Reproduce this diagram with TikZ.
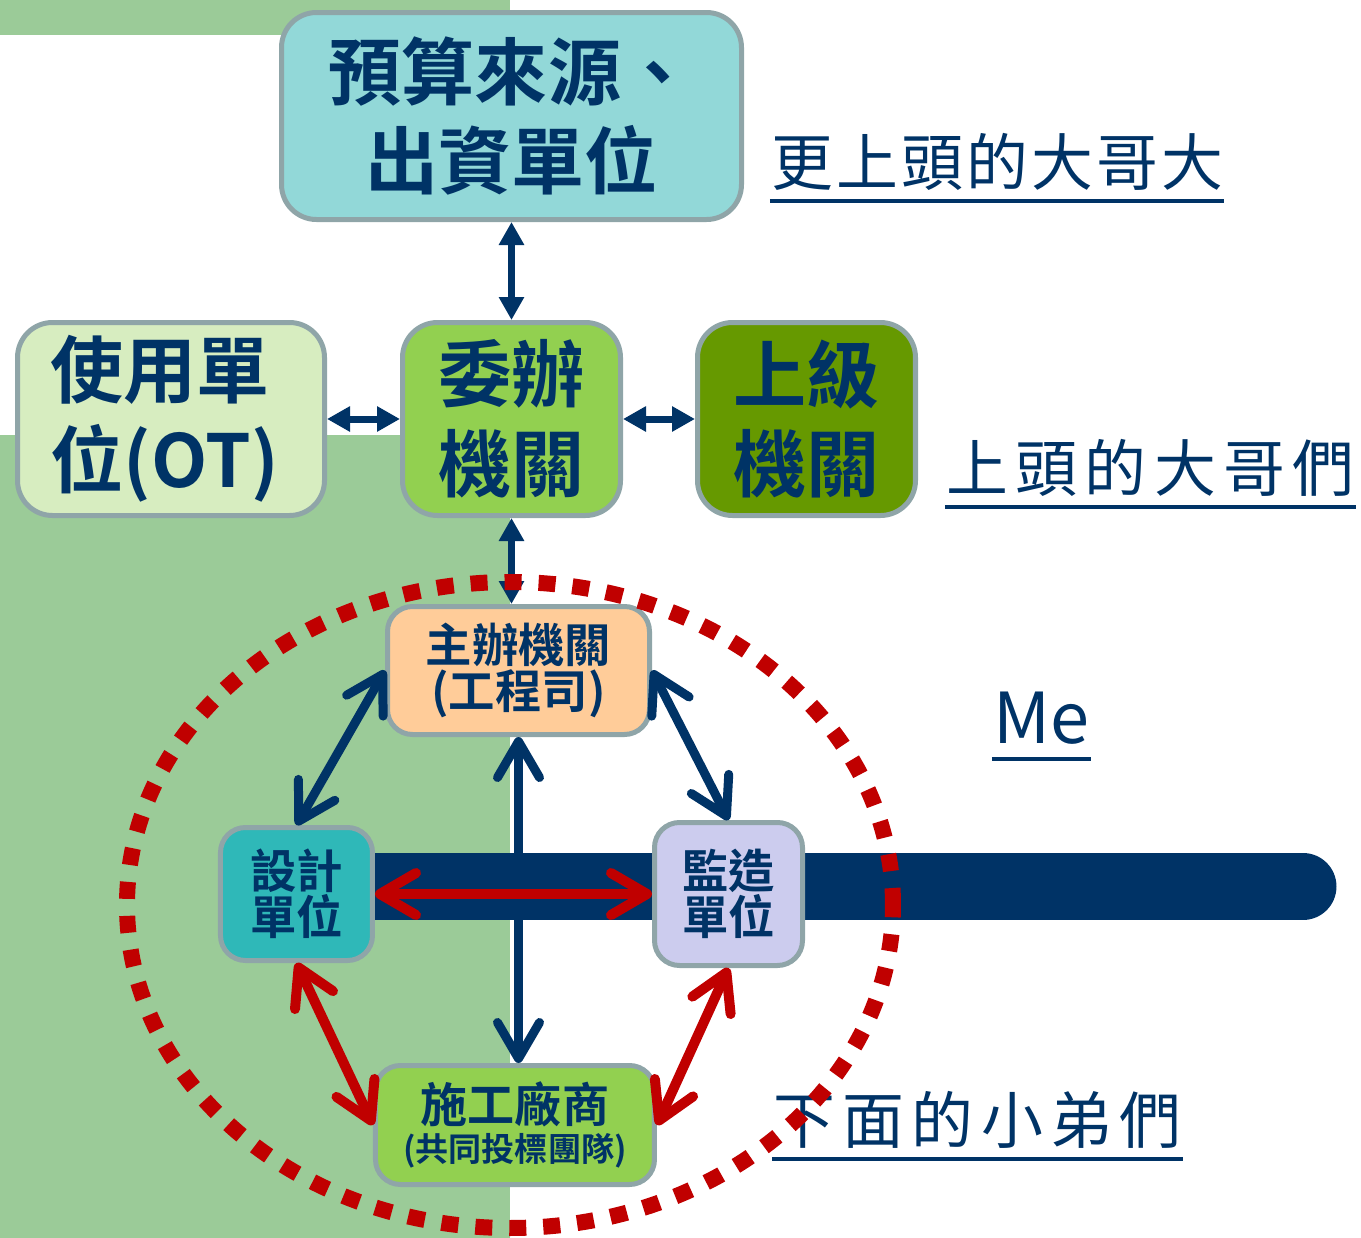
\documentclass[tikz,border=0pt]{standalone}
\usepackage{fontspec}
\setmainfont{Noto Sans CJK TC}[BoldFont={Noto Sans CJK TC Bold}]
\newfontfamily\tightlbl{Noto Sans CJK TC}[LetterSpace=5]
\newfontfamily\widelbl{Noto Sans CJK TC}[LetterSpace=12]
\usetikzlibrary{arrows.meta, positioning, backgrounds}
\definecolor{navy}{HTML}{003366}
\definecolor{brick}{HTML}{C00000}
\definecolor{bggreen}{RGB}{155,203,152}
\definecolor{boxline}{RGB}{143,165,168}
\definecolor{fundfill}{RGB}{146,216,216}
\definecolor{userfill}{RGB}{215,237,192}
\definecolor{agentfill}{HTML}{92D050}
\definecolor{upperfill}{HTML}{669900}
\definecolor{ownerfill}{HTML}{FFCC99}
\definecolor{designfill}{RGB}{47,184,184}
\definecolor{superfill}{RGB}{204,204,238}
\tikzstyle{bigbox} = [draw=boxline, line width=0.05cm, rounded corners=0.35cm,
   text=navy, align=center, inner sep=0pt, minimum width=2.18cm, minimum height=1.93cm,
   font=\fontsize{20.8}{25.5}\selectfont\bfseries]
\tikzstyle{smallbox} = [draw=boxline, line width=0.05cm, rounded corners=0.25cm,
   text=navy, align=center, inner sep=0pt, font=\fontsize{13.2}{13}\selectfont\bfseries]
\tikzstyle{lbl} = [text=navy, inner sep=0pt, font=\fontsize{17.6}{20}\selectfont]
\tikzstyle{uline} = [navy, line width=0.04cm]
\tikzstyle{thinlink} = [navy, line width=0.07cm,
   {Triangle[length=2.3mm,width=2.4mm]}-{Triangle[length=2.3mm,width=2.4mm]}]
\tikzstyle{fatlink} = [navy, line width=0.09cm,
   {Straight Barb[length=3.6mm,width=4.2mm,round]}-{Straight Barb[length=3.6mm,width=4.2mm,round]}]
\tikzstyle{redlink} = [fatlink, brick, line width=0.1cm]
\tikzstyle{ring} = [draw=brick, line width=0.16cm, dash pattern=on 0.17cm off 0.17cm]
\begin{document}
\begin{tikzpicture}[thick]
  \useasboundingbox (0,0) rectangle (13.61,-12.38);

  % top row
  \node[bigbox, fill=agentfill] (agent) at (5.115,-4.19) {委辦\\機關};
  \node[bigbox, fill=userfill, minimum width=3.07cm, text width=2.41cm, align=left,
        left=0.73cm of agent] (user) {使用單\\位(OT)};
  \node[bigbox, fill=upperfill, right=0.72cm of agent] (upper) {上級\\機關};
  \node[bigbox, fill=fundfill, minimum width=4.6cm, minimum height=2.07cm,
        above=0.98cm of agent] (fund) {預算來源、\\出資單位};

  % the team
  \node[smallbox, fill=ownerfill, minimum width=2.62cm, minimum height=1.28cm,
        below=0.86cm of agent, xshift=0.07cm] (owner) {主辦機關\\(工程司)};
  \node[smallbox, fill=designfill, minimum width=1.52cm, minimum height=1.33cm] (design) at (2.965,-8.94) {設計\\單位};
  \node[smallbox, fill=superfill, minimum width=1.48cm, minimum height=1.43cm] (super) at (7.285,-8.94) {監造\\單位};
  \node[smallbox, fill=agentfill, minimum width=2.79cm, minimum height=1.19cm,
        font=\fontsize{13.4}{11}\selectfont\bfseries] (build) at (5.15,-11.25)
        {施工廠商\\{\fontsize{9.4}{11}\selectfont(共同投標團隊)}};

  % side labels
  \node[lbl, anchor=base west] (bigboss) at (7.70,-1.85) {\tightlbl 更上頭的大哥大};
  \node[lbl, anchor=base west] (bosses) at (9.45,-4.91) {\widelbl 上頭的大哥們};
  \node[lbl, anchor=base west, font=\fontsize{20}{23}\selectfont] (me) at (9.92,-7.43) {Me};
  \node[lbl, anchor=base west] (juniors) at (7.72,-11.43) {\widelbl 下面的小弟們};
  \foreach \l in {bigboss, bosses, me, juniors}
    \draw[uline] ([yshift=-0.16cm]\l.base west) -- ([yshift=-0.16cm]\l.base east);

  % background and bar
  \begin{scope}[on background layer]
    \fill[bggreen] (0,0) rectangle (5.105,-0.35);
    \fill[bggreen] (0,-4.35) rectangle (5.105,-12.38);
    \draw[navy, line width=0.67cm, line cap=round] (3.0,-8.865) -- (13.03,-8.865);
  \end{scope}

  % links
  \draw[thinlink] (fund) -- (agent);
  \draw[thinlink] (user) -- (agent);
  \draw[thinlink] (agent) -- (upper);
  \draw[thinlink] (agent.south) -- (agent.south |- owner.north);
  \draw[fatlink] (owner.west) -- (design.north);
  \draw[fatlink] (owner.east) -- (super.north);
  \draw[fatlink] (owner.south) -- (owner.south |- build.north);
  \draw[redlink] (design) -- (super);
  \draw[redlink] (design.south) -- (build.west);
  \draw[redlink] (super.south) -- (build.east);

  % the circle round the team
  \draw[ring] (5.10,-9.05) ellipse [x radius=3.83, y radius=3.23];
\end{tikzpicture}
\end{document}
